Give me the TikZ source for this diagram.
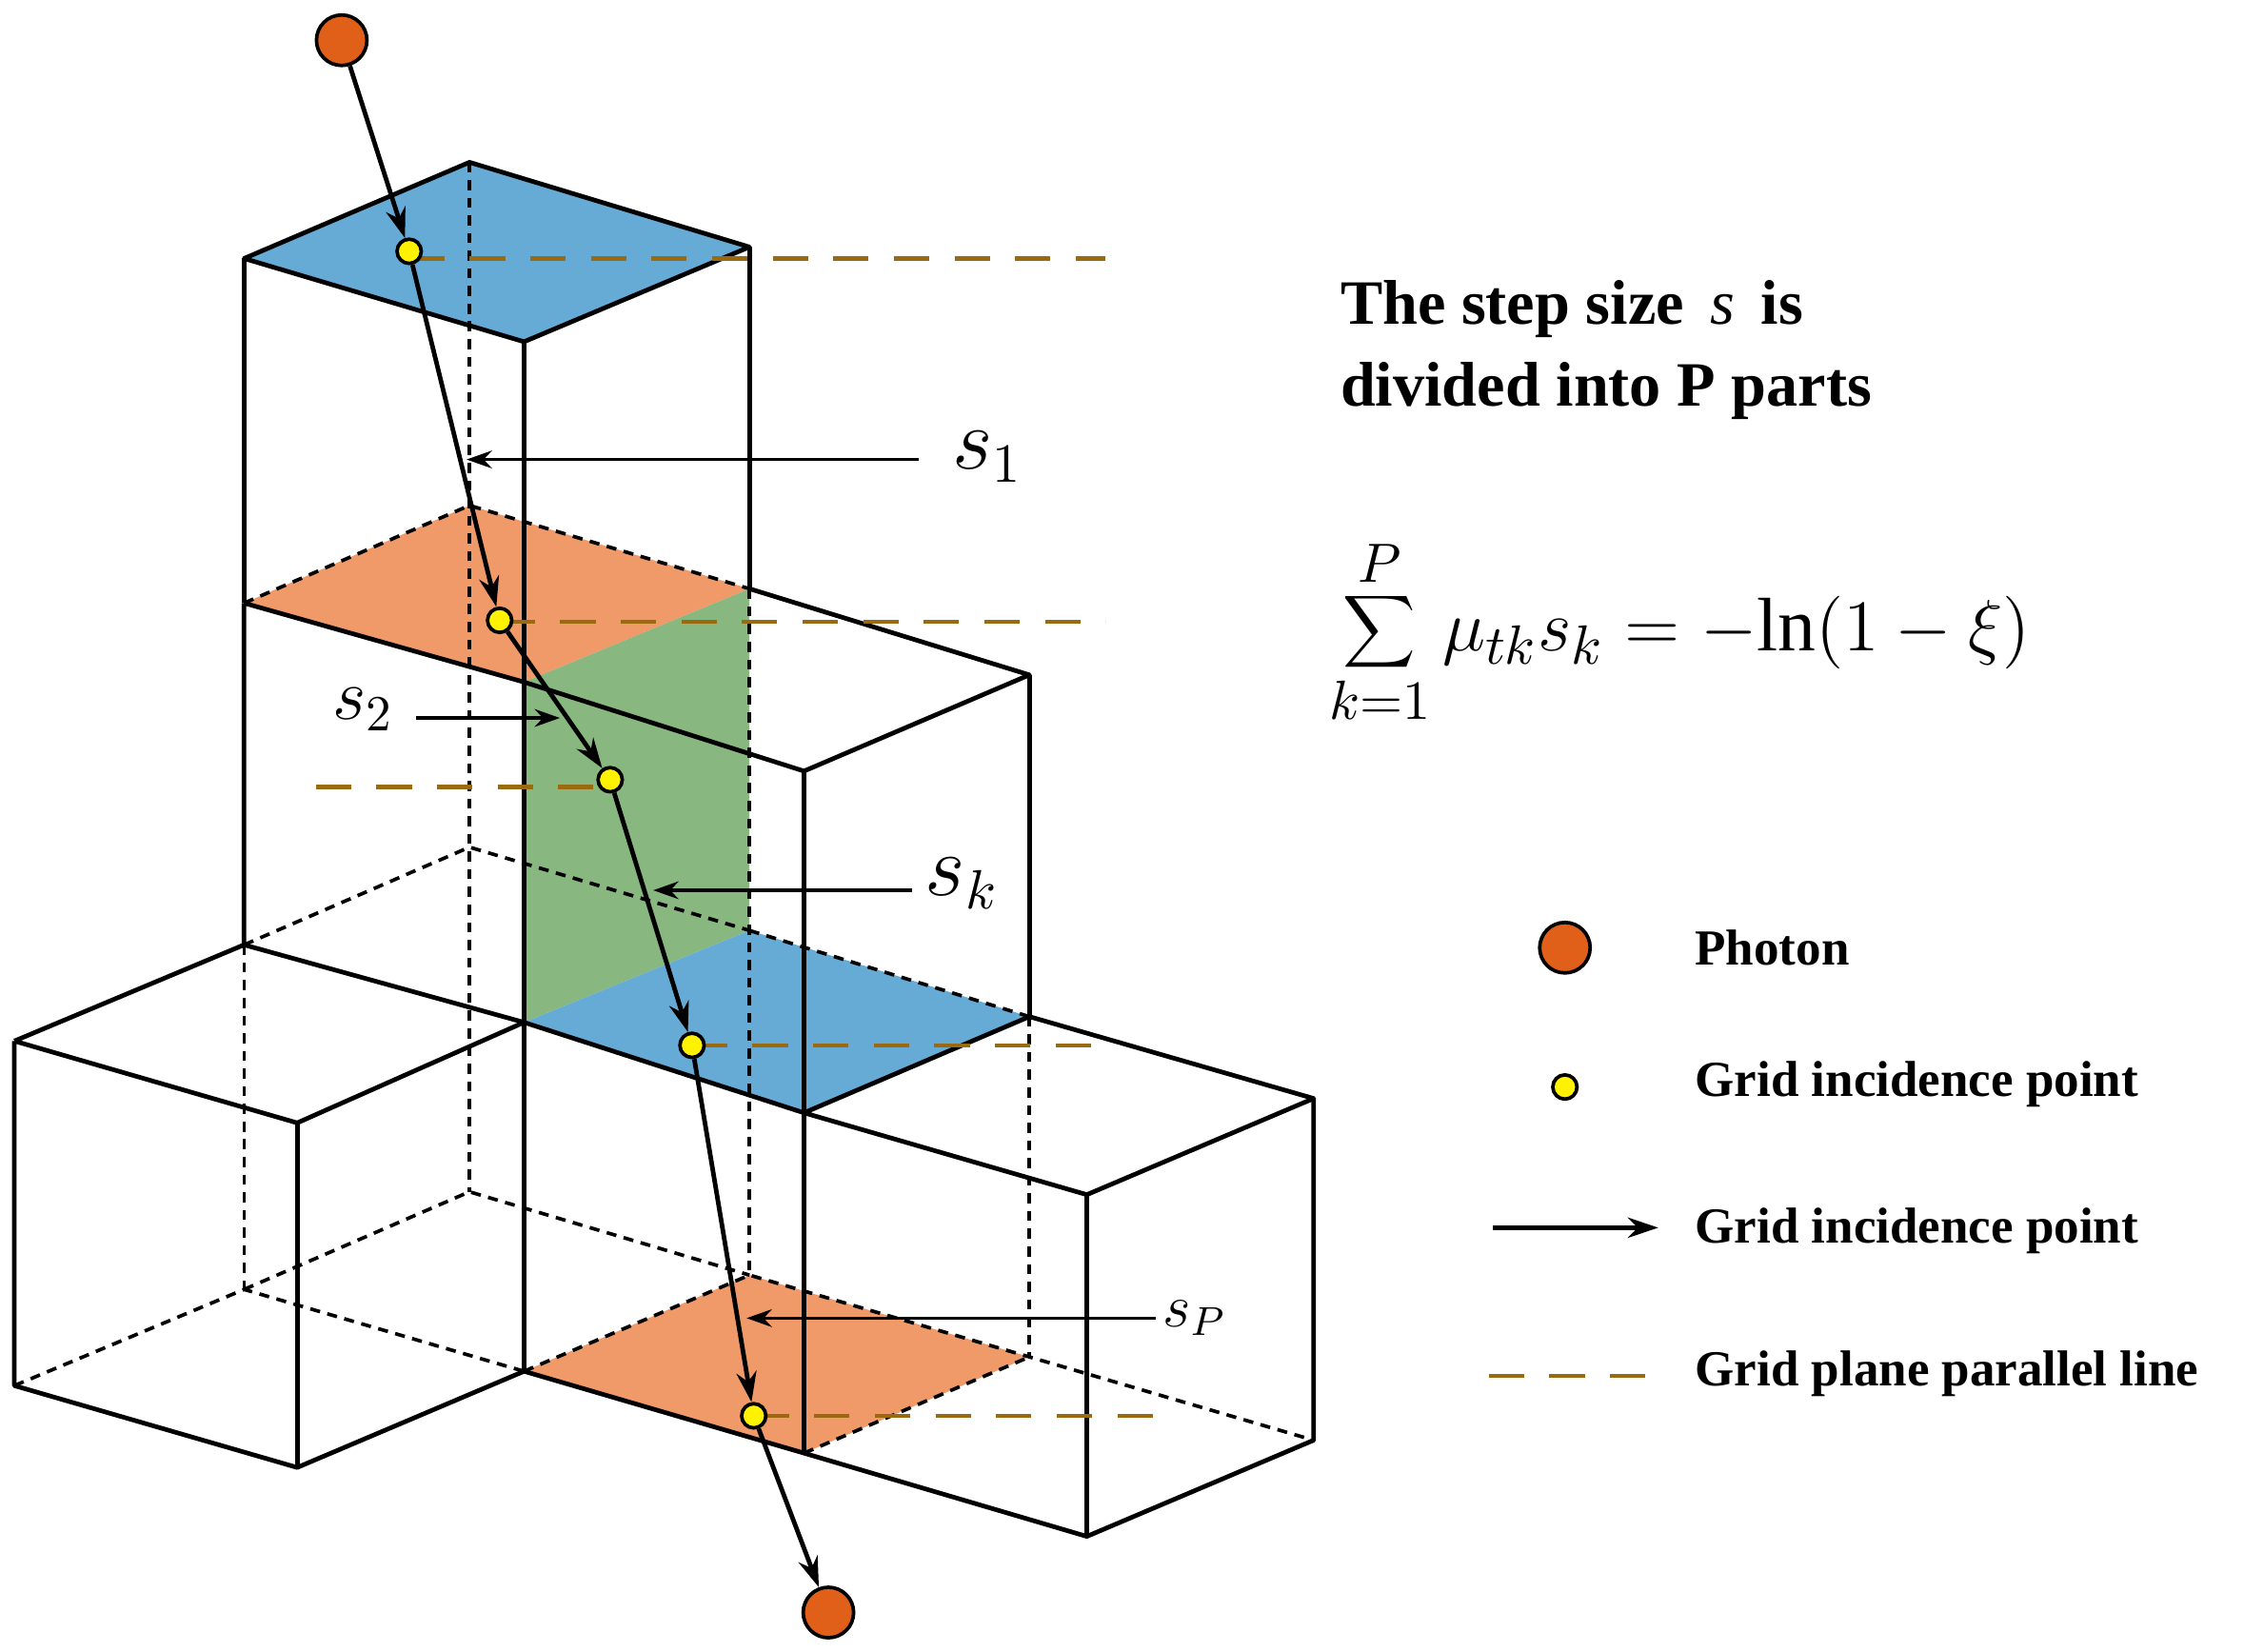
\documentclass[tikz,border=0pt]{standalone}
\usepackage{fontspec}
\setmainfont{Liberation Serif}
\usetikzlibrary{arrows.meta}
\definecolor{pblue}{HTML}{66AAD6}
\definecolor{porange}{HTML}{F09A6A}
\definecolor{pgreen}{HTML}{88B880}
\definecolor{photon}{HTML}{E0601A}
\definecolor{brown}{HTML}{9A6A10}
\begin{document}
\begin{tikzpicture}[x=0.01cm,y=-0.01cm,
  edge/.style={line width=0.9pt,line join=round},
  hid/.style={line width=0.7pt,dash pattern=on 2pt off 1.5pt},
  par/.style={brown,line width=0.8pt,dash pattern=on 7pt off 5pt},
  ray/.style={line width=0.9pt,-{Stealth[length=6pt,width=4pt]}},
  lab/.style={line width=0.7pt,-{Stealth[length=5pt,width=3.5pt]}},
  yp/.style={circle,draw=black,fill=yellow,line width=0.7pt,inner sep=0pt,minimum size=4.8pt},
  ph/.style={circle,draw=black,fill=photon,line width=0.7pt,inner sep=0pt,minimum size=10pt},
  txt/.style={font=\bfseries\fontsize{12.5}{14}\selectfont,anchor=west,inner sep=0pt},
  leg/.style={font=\bfseries\fontsize{10}{12}\selectfont,anchor=west,inner sep=0pt}]
\useasboundingbox (0,0) rectangle (1563,1150);
% planes
\fill[pblue] (170,180)--(327,113)--(522,172)--(365,238)--cycle;
\fill[porange] (170,420)--(327,352)--(522,410)--(365,475)--cycle;
\fill[pgreen] (365,475)--(522,410)--(522,648)--(365,712)--cycle;
\fill[pblue] (365,712)--(522,648)--(717,708)--(560,775)--cycle;
\fill[porange] (365,955)--(522,888)--(717,945)--(560,1012)--cycle;
% hidden lines
\draw[hid] (327,113)--(327,830);
\draw[hid] (170,420)--(327,352)--(522,410);
\draw[hid] (170,658)--(327,590)--(522,648);
\draw[hid] (522,410)--(522,888);
\draw[hid] (170,658)--(170,898);
\draw[hid] (10,965)--(170,898)--(365,955);
\draw[hid] (170,898)--(327,830)--(522,888);
\draw[hid] (365,955)--(522,888)--(717,945)--(915,1003);
\draw[hid] (717,708)--(717,945);
\draw[hid] (560,1012)--(717,945);
\draw[hid] (522,648)--(717,708);
% visible edges
\draw[edge] (170,180)--(327,113)--(522,172)--(365,238)--cycle;
\draw[edge] (170,180)--(170,420) (365,238)--(365,475) (522,172)--(522,410);
\draw[edge] (170,420)--(365,475)--(560,537)--(717,470)--(522,410);
\draw[edge] (170,420)--(170,658)--(365,712);
\draw[edge] (717,470)--(717,708) (560,537)--(560,775);
\draw[edge] (365,475)--(365,955);
\draw[edge] (10,725)--(170,658) (10,725)--(207,782)--(365,712)--(560,775)--(717,708)--(915,765)--(757,832)--(560,775);
\draw[edge] (10,725)--(10,965)--(207,1022)--(365,955)--(560,1012)--(757,1070)--(915,1003)--(915,765);
\draw[edge] (207,782)--(207,1022) (560,775)--(560,1012) (757,832)--(757,1070);
% parallel lines
\draw[par] (285,180)--(770,180);
\draw[par] (348,433)--(770,433);
\draw[par] (220,548)--(425,548);
\draw[par] (482,728)--(760,728);
\draw[par] (525,986)--(805,986);
% points
\node[ph] (p0) at (238,28) {};
\node[yp] (a1) at (285,175) {};
\node[yp] (a2) at (348,432) {};
\node[yp] (a3) at (425,543) {};
\node[yp] (a4) at (482,728) {};
\node[yp] (a5) at (525,986) {};
\node[ph] (p1) at (577,1123) {};
\draw[ray] (p0)--(a1);
\draw[ray] (a1)--(a2);
\draw[ray] (a2)--(a3);
\draw[ray] (a3)--(a4);
\draw[ray] (a4)--(a5);
\draw[ray] (a5)--(p1);
% step labels
\node (s1) at (688,318) {\fontsize{16}{16}\selectfont$s_1$};
\coordinate (s1t) at (325,320);
\draw[lab] (640,320)--(s1t);
\node (s2) at (253,494) {\fontsize{14}{14}\selectfont$s_2$};
\coordinate (s2t) at (390,500);
\draw[lab] (290,500)--(s2t);
\node (sk) at (670,615) {\fontsize{16}{16}\selectfont$s_k$};
\coordinate (skt) at (455,620);
\draw[lab] (635,620)--(skt);
\node (sp) at (832,918) {\fontsize{12}{12}\selectfont$s_P$};
\coordinate (spt) at (520,918);
\draw[lab] (805,918)--(spt);
% text
\node[txt] (t1) at (933,215) {The step size \,$\mathit{s}$\, is};
\node[txt] (t2) at (933,272) {divided into P parts};
\node (f) at (1170,440) {\fontsize{15}{15}\selectfont$\displaystyle\sum_{k=1}^{P}\mu_{tk}s_k=-\mathrm{ln}(1-\xi)$};
% legend
\node[ph] (l1) at (1090,660) {};
\node[leg] at (1180,660) {Photon};
\node[yp] (l2) at (1090,757) {};
\node[leg] at (1180,755) {Grid incidence point};
\coordinate (l3a) at (1040,855); \coordinate (l3b) at (1155,855);
\draw[ray] (l3a)--(l3b);
\node[leg] at (1180,857) {Grid incidence point};
\coordinate (l4a) at (1037,958); \coordinate (l4b) at (1155,958);
\draw[par] (l4a)--(l4b);
\node[leg] at (1180,957) {Grid plane parallel line};
\end{tikzpicture}
\end{document}
